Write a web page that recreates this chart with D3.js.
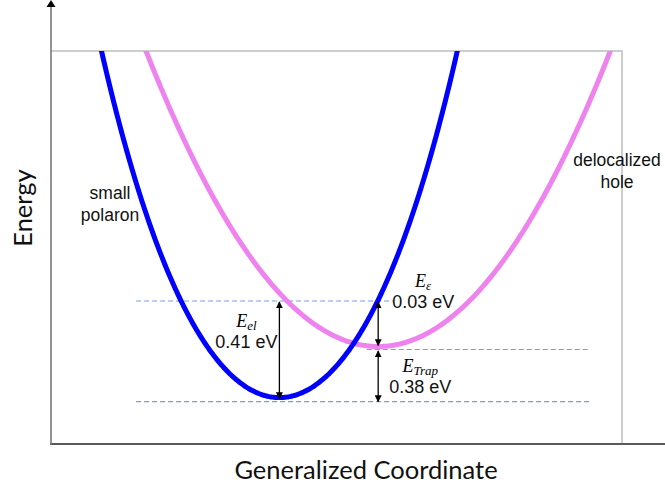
<!DOCTYPE html>
<html>
<head>
<meta charset="utf-8">
<script src="https://cdn.jsdelivr.net/npm/d3@7"></script>
<style>
  body { margin: 0; background: #fff; }
  svg { display: block; }
</style>
</head>
<body>
<script>
// Potential energy curves along the generalized coordinate (schematic units):
// E(q) = minimum + k2 * (q - centre)^2 + k4 * (q - centre)^4
const curveNames   = ["small polaron", "delocalized hole"];
const curveCentres = [40.0, 57.3];
const curveMinima  = [11.8, 24.8];
const curveK2      = [0.0795, 0.0455];
const curveK4      = [1.17e-5, 0];
const curveColors  = ["#0000ff", "#ee82ee"];

// Energy levels in eV, relative to the small-polaron minimum
const levelEnergies = [0, 0.38, 0.41];

// Energy gaps drawn as double arrows: [lower eV, upper eV, symbol, subscript]
const gapLower  = [0, 0.38, 0];
const gapUpper  = [0.41, 0.41, 0.38];
const gapSymbol = ["E", "E", "E"];
const gapSub    = ["el", "ε", "Trap"];

const W = 665, H = 490;
const plot = { left: 51, right: 622, top: 51, bottom: 444 };

const svg = d3.select("body").append("svg")
  .attr("width", W).attr("height", H);

const x = d3.scaleLinear().domain([0, 100]).range([plot.left, plot.right]);
const y = d3.scaleLinear().domain([0, 100]).range([plot.bottom, plot.top]);

const energyAt = (i, q) => {
  const d = q - curveCentres[i];
  return curveMinima[i] + curveK2[i] * d * d + curveK4[i] * d ** 4;
};

// pixel heights of the three levels: polaron minimum, hole minimum,
// and the polaron curve evaluated at the hole geometry
const strokeW = 5;
const yLevel = [
  y(curveMinima[0]) + strokeW / 2 + 1.5,
  y(curveMinima[1]) + strokeW / 2 + 0.5,
  y(energyAt(0, curveCentres[1])) + 1
];
const yE = d3.scaleLinear().domain(levelEnergies).range(yLevel);

// --- frame -------------------------------------------------------------
svg.append("path")
  .attr("d", `M${plot.left},${plot.top}H${plot.right}V${plot.bottom}`)
  .attr("fill", "none").attr("stroke", "#bdbdbd").attr("stroke-width", 1.5);

svg.append("line")
  .attr("x1", plot.left - 1).attr("x2", W)
  .attr("y1", plot.bottom).attr("y2", plot.bottom)
  .attr("stroke", "#5a5a5a").attr("stroke-width", 2);

svg.append("line")
  .attr("x1", plot.left).attr("x2", plot.left)
  .attr("y1", plot.bottom + 1).attr("y2", 6)
  .attr("stroke", "#777").attr("stroke-width", 1.6);

svg.append("path")
  .attr("d", `M${plot.left},0L${plot.left + 4.5},7L${plot.left - 4.5},7Z`)
  .attr("fill", "#000");

// --- dashed energy levels ------------------------------------------------
const levelSpan = [[14.9, 94.4], [55.3, 94.4], [14.9, 59.9]];
svg.append("g").selectAll("line")
  .data(levelEnergies)
  .join("line")
  .attr("x1", (d, i) => x(levelSpan[i][0]))
  .attr("x2", (d, i) => x(levelSpan[i][1]))
  .attr("y1", d => yE(d)).attr("y2", d => yE(d))
  .attr("stroke", "#739de6").attr("stroke-width", 1.1)
  .attr("stroke-dasharray", "5,3");

// --- curves -------------------------------------------------------------
svg.append("clipPath").attr("id", "plotClip")
  .append("rect")
  .attr("x", plot.left).attr("y", plot.top)
  .attr("width", plot.right - plot.left).attr("height", plot.bottom - plot.top);

const qs = d3.range(0, 100.001, 0.25);
const line = d3.line().x(d => x(d[0])).y(d => y(d[1])).curve(d3.curveBasis);

// hole curve first so the polaron curve sits on top
[1, 0].forEach(i => {
  svg.append("path")
    .attr("clip-path", "url(#plotClip)")
    .attr("d", line(qs.map(q => [q, energyAt(i, q)])))
    .attr("fill", "none")
    .attr("stroke", curveColors[i])
    .attr("stroke-width", strokeW)
    .attr("stroke-linecap", "round");
});

// --- gap arrows ---------------------------------------------------------
svg.append("defs").append("marker")
  .attr("id", "head")
  .attr("viewBox", "0 0 10 10")
  .attr("refX", 9).attr("refY", 5)
  .attr("markerWidth", 7).attr("markerHeight", 7)
  .attr("markerUnits", "userSpaceOnUse")
  .attr("orient", "auto-start-reverse")
  .append("path").attr("d", "M0,0L10,5L0,10Z").attr("fill", "#000");

const gapX = [curveCentres[0], curveCentres[1], curveCentres[1]];
const inset = [[1, 3], [1, 4], [1.5, 0]];
svg.append("g").selectAll("line")
  .data(gapLower)
  .join("line")
  .attr("x1", (d, i) => x(gapX[i])).attr("x2", (d, i) => x(gapX[i]))
  .attr("y1", (d, i) => yE(gapUpper[i]) + inset[i][0])
  .attr("y2", (d, i) => yE(d) - inset[i][1])
  .attr("stroke", "#000").attr("stroke-width", 1.3)
  .attr("marker-start", "url(#head)")
  .attr("marker-end", "url(#head)");

// --- gap labels ---------------------------------------------------------
const fmt = d3.format(".2f");
const labelDX = [-33, 45, 42];
const labelY  = [322, 282, 367];
gapLower.forEach((lo, i) => {
  const cx = x(gapX[i]) + labelDX[i];
  const sym = svg.append("text")
    .attr("x", cx).attr("y", labelY[i] + 5)
    .attr("text-anchor", "middle")
    .attr("font-family", "'Liberation Serif', 'DejaVu Serif', serif")
    .attr("font-style", "italic")
    .attr("font-size", 18);
  sym.append("tspan").text(gapSymbol[i]);
  sym.append("tspan").attr("font-size", 13).attr("dy", 3).text(gapSub[i]);

  svg.append("text")
    .attr("x", cx).attr("y", labelY[i] + 25.5)
    .attr("text-anchor", "middle")
    .attr("font-family", "'Liberation Sans', Arial, sans-serif")
    .attr("font-size", 18)
    .attr("fill", "#111")
    .text(`${fmt(gapUpper[i] - lo)} eV`);
});

// --- curve names --------------------------------------------------------
const nameX = [110, 617];
const nameY = [199, 166];
curveNames.forEach((name, i) => {
  const t = svg.append("text")
    .attr("text-anchor", "middle")
    .attr("font-family", "'Liberation Sans', Arial, sans-serif")
    .attr("font-size", 17.5)
    .attr("fill", "#111");
  name.split(" ").forEach((w, k) => {
    t.append("tspan").attr("x", nameX[i]).attr("y", nameY[i] + k * 21.5).text(w);
  });
});

// --- axis titles --------------------------------------------------------
svg.append("text")
  .attr("x", 366).attr("y", 479)
  .attr("text-anchor", "middle")
  .attr("font-family", "Lato, 'Open Sans', sans-serif")
  .attr("font-size", 25.5)
  .attr("fill", "#111")
  .text("Generalized Coordinate");

svg.append("text")
  .attr("transform", "translate(32,208) rotate(-90)")
  .attr("text-anchor", "middle")
  .attr("font-family", "Lato, 'Open Sans', sans-serif")
  .attr("font-size", 25.5)
  .attr("fill", "#111")
  .text("Energy");
</script>
</body>
</html>
